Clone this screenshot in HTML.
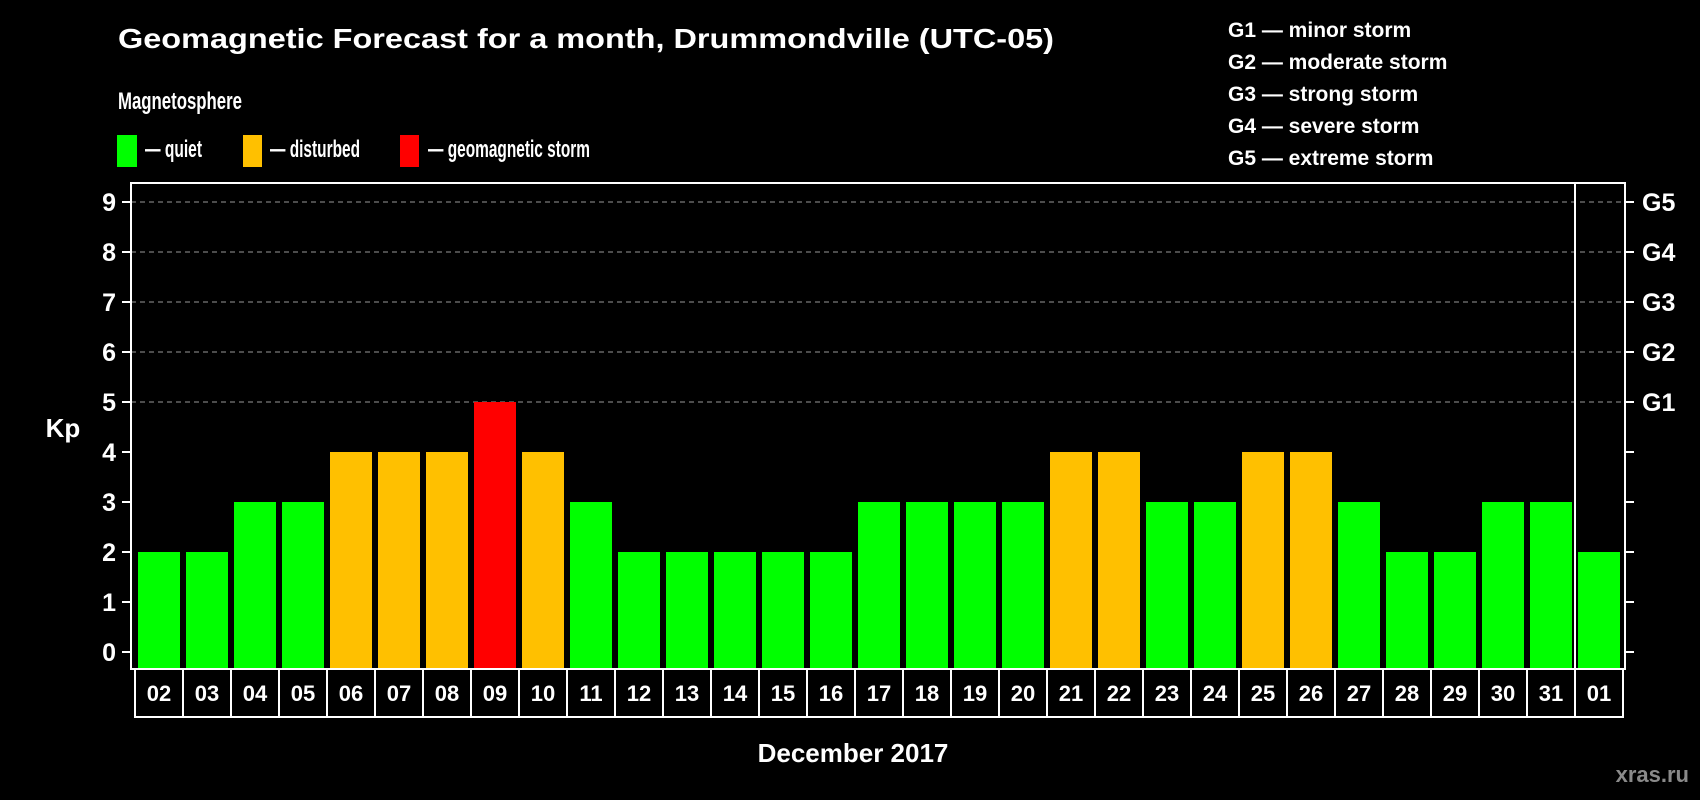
<!DOCTYPE html>
<html><head><meta charset="utf-8"><style>
html,body{margin:0;padding:0;background:#000;}
svg{display:block;font-family:"Liberation Sans",Arial,sans-serif;font-weight:bold;}
</style></head><body>
<svg id="chart" width="1700" height="800" viewBox="0 0 1700 800" xmlns="http://www.w3.org/2000/svg">
<rect width="1700" height="800" fill="#000"/>
<text x="118" y="48" font-size="28" fill="#fff" textLength="936" lengthAdjust="spacingAndGlyphs">Geomagnetic Forecast for a month, Drummondville (UTC-05)</text>
<text x="118" y="109" font-size="24" fill="#fff" textLength="124" lengthAdjust="spacingAndGlyphs">Magnetosphere</text>
<g>
<rect x="117" y="135" width="20" height="32" fill="#00ff00"/>
<text x="145" y="157" font-size="24" fill="#fff" textLength="57" lengthAdjust="spacingAndGlyphs">— quiet</text></g>
<g>
<rect x="243" y="135" width="19" height="32" fill="#ffc000"/>
<text x="270" y="157" font-size="24" fill="#fff" textLength="90" lengthAdjust="spacingAndGlyphs">— disturbed</text></g>
<g>
<rect x="400" y="135" width="19" height="32" fill="#ff0000"/>
<text x="428" y="157" font-size="24" fill="#fff" textLength="162" lengthAdjust="spacingAndGlyphs">— geomagnetic storm</text></g>
<g font-size="21" fill="#fff">
<text x="1228" y="37">G1 — minor storm</text>
<text x="1228" y="69">G2 — moderate storm</text>
<text x="1228" y="101">G3 — strong storm</text>
<text x="1228" y="133">G4 — severe storm</text>
<text x="1228" y="165">G5 — extreme storm</text>
</g>
<text x="63" y="437" font-size="26" fill="#fff" text-anchor="middle">Kp</text>
<text x="853" y="762" font-size="26" fill="#fff" text-anchor="middle">December 2017</text>
<text x="1689" y="782" font-size="22" fill="#8a8a8a" text-anchor="end">xras.ru</text>
<g id="grid"></g><g id="bars"></g><g id="axes"></g><g id="dates"></g>
</svg>
<script>
const days = ["02","03","04","05","06","07","08","09","10","11","12","13","14","15","16","17","18","19","20","21","22","23","24","25","26","27","28","29","30","31","01"];
const kpValues = [2,2,3,3,4,4,4,5,4,3,2,2,2,2,2,3,3,3,3,4,4,3,3,4,4,3,2,2,3,3,2];
const yTicks = [0,1,2,3,4,5,6,7,8,9];
const gLabels = ["G1","G2","G3","G4","G5"];
const gLevels = [5,6,7,8,9];

const NS="http://www.w3.org/2000/svg";
const plotL=131, plotR=1625, plotT=183, plotB=669, sepX=1575;
const y=v=>652-v*50;
const x=i=>135+i*48;
function mk(t,a,p){const e=document.createElementNS(NS,t);for(const k in a)e.setAttribute(k,a[k]);p.appendChild(e);return e;}
const grid=document.getElementById('grid'),bars=document.getElementById('bars'),axes=document.getElementById('axes'),dates=document.getElementById('dates');
gLevels.forEach(v=>{const l=mk('line',{x1:plotL,x2:plotR,y1:y(v),y2:y(v),stroke:'#999','stroke-dasharray':'5,4','stroke-width':1},grid);

});
function color(v){return v>=5?'#ff0000':(v>=4?'#ffc000':'#00ff00');}
kpValues.forEach((v,i)=>{const r=mk('rect',{x:x(i)+3,y:y(v),width:42,height:y(0)-y(v)+16,fill:color(v)},bars);

});
const frame=mk('rect',{x:plotL,y:plotT,width:plotR-plotL,height:plotB-plotT,fill:'none',stroke:'#fff','stroke-width':2},axes);


const sep=mk('line',{x1:sepX,x2:sepX,y1:plotT,y2:plotB,stroke:'#fff','stroke-width':2},axes);


yTicks.forEach(v=>{
 mk('line',{x1:122,x2:plotL,y1:y(v),y2:y(v),stroke:'#fff','stroke-width':2},axes);
 mk('line',{x1:plotR,x2:1634,y1:y(v),y2:y(v),stroke:'#fff','stroke-width':2},axes);
 const t=mk('text',{x:116,y:y(v)+9,'font-size':25,fill:'#fff','text-anchor':'end'},axes);t.textContent=v;
 
 
});
gLabels.forEach((g,i)=>{const t=mk('text',{x:1642,y:y(gLevels[i])+9,'font-size':25,fill:'#fff'},axes);t.textContent=g;
 
 });
days.forEach((d,i)=>{
 const r=mk('rect',{x:x(i),y:669,width:48,height:48,fill:'none',stroke:'#fff','stroke-width':2},dates);
 
 
 const t=mk('text',{x:x(i)+24,y:701,'font-size':22,fill:'#fff','text-anchor':'middle'},dates);t.textContent=d;
 
 
});
</script>
</body></html>
